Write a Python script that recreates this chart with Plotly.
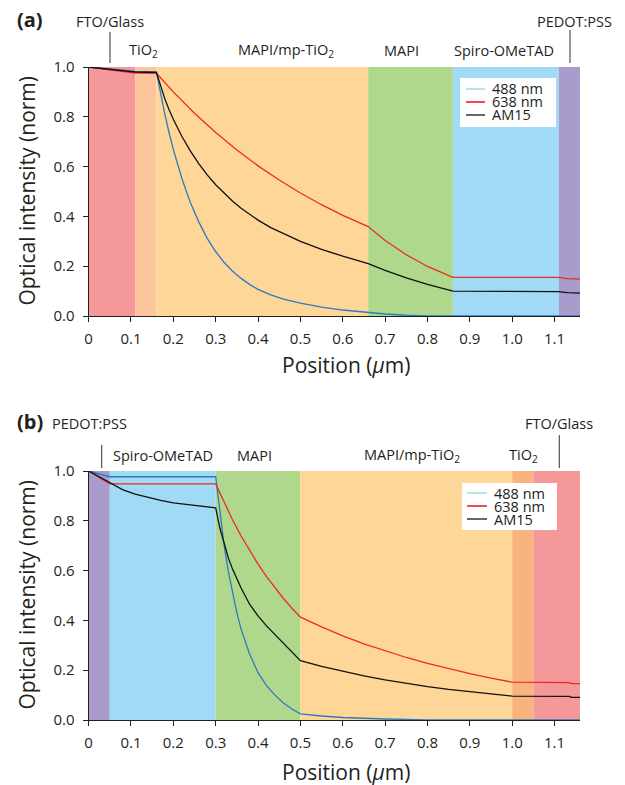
import plotly.graph_objects as go

# ---------------- data ----------------
# Panel (a): layer stack FTO/Glass -> PEDOT:PSS
top_layer_names = ["FTO/Glass", "TiO2", "MAPI/mp-TiO2", "MAPI", "Spiro-OMeTAD", "PEDOT:PSS"]
top_layer_edges = [0.0, 0.11, 0.16, 0.66, 0.86, 1.11, 1.16]
top_layer_colors = ["#F4989A", "#FCC59C", "#FDD698", "#B0D88C", "#A1DAF5", "#A99BCB"]

top_x_488 = [0, 0.11, 0.16, 0.17, 0.18, 0.19, 0.20, 0.22, 0.24, 0.26, 0.28, 0.30, 0.32, 0.34, 0.36,
             0.38, 0.40, 0.43, 0.46, 0.50, 0.55, 0.60, 0.66, 0.70, 0.75, 0.80, 1.16]
top_y_488 = [1.0, 0.982, 0.98, 0.891, 0.81, 0.736, 0.669, 0.553, 0.457, 0.378, 0.312, 0.258, 0.215, 0.18, 0.151,
             0.127, 0.107, 0.085, 0.068, 0.052, 0.036, 0.024, 0.013, 0.008, 0.003, 0.0, 0.0]

top_x_638 = [0, 0.11, 0.16, 0.20, 0.25, 0.30, 0.35, 0.40, 0.45, 0.50, 0.55, 0.60, 0.66,
             0.70, 0.75, 0.80, 0.86, 1.11, 1.13, 1.16]
top_y_638 = [1.0, 0.975, 0.975, 0.90, 0.814, 0.737, 0.667, 0.603, 0.546, 0.494, 0.447, 0.404, 0.359,
             0.303, 0.246, 0.199, 0.155, 0.155, 0.150, 0.148]

top_x_am15 = [0, 0.11, 0.16, 0.17, 0.18, 0.19, 0.20, 0.22, 0.24, 0.26, 0.28, 0.30, 0.32, 0.34, 0.36,
              0.38, 0.40, 0.43, 0.46, 0.50, 0.55, 0.60, 0.66, 0.70, 0.75, 0.80, 0.86, 1.11, 1.13, 1.16]
top_y_am15 = [1.0, 0.98, 0.978, 0.92, 0.872, 0.828, 0.79, 0.722, 0.663, 0.612, 0.567, 0.527, 0.492, 0.461, 0.433,
              0.408, 0.385, 0.355, 0.33, 0.30, 0.268, 0.24, 0.21, 0.183, 0.153, 0.127, 0.10, 0.098, 0.094, 0.092]

# Panel (b): layer stack PEDOT:PSS -> FTO/Glass
bot_layer_names = ["PEDOT:PSS", "Spiro-OMeTAD", "MAPI", "MAPI/mp-TiO2", "TiO2", "FTO/Glass"]
bot_layer_edges = [0.0, 0.05, 0.30, 0.50, 1.00, 1.05, 1.16]
bot_layer_colors = ["#A99BCB", "#A1DAF5", "#B0D88C", "#FDD698", "#F9B47E", "#F4989A"]

bot_x_488 = [0, 0.05, 0.30, 0.31, 0.32, 0.33, 0.34, 0.35, 0.36, 0.38, 0.40, 0.42, 0.44, 0.46, 0.48, 0.50,
             0.55, 0.60, 0.70, 0.80, 1.16]
bot_y_488 = [1.0, 0.977, 0.977, 0.83, 0.70, 0.595, 0.505, 0.43, 0.365, 0.265, 0.19, 0.138, 0.1, 0.068, 0.044, 0.025,
             0.016, 0.01, 0.004, 0.0, 0.0]

bot_x_638 = [0, 0.05, 0.30, 0.32, 0.34, 0.36, 0.38, 0.40, 0.42, 0.44, 0.46, 0.48, 0.50, 0.55, 0.60,
             0.65, 0.70, 0.75, 0.80, 0.85, 0.90, 0.95, 1.00, 1.135, 1.14, 1.16]
bot_y_638 = [1.0, 0.948, 0.948, 0.873, 0.803, 0.739, 0.680, 0.626, 0.576, 0.530, 0.488, 0.449, 0.413, 0.374, 0.338,
             0.306, 0.277, 0.251, 0.227, 0.205, 0.186, 0.168, 0.152, 0.150, 0.146, 0.146]

bot_x_am15 = [0, 0.05, 0.08, 0.11, 0.14, 0.17, 0.20, 0.25, 0.30, 0.31, 0.32, 0.33, 0.34, 0.35, 0.36,
              0.38, 0.40, 0.42, 0.44, 0.46, 0.48, 0.50, 0.55, 0.60, 0.65, 0.70, 0.75, 0.80, 0.85,
              0.90, 0.95, 1.00, 1.135, 1.14, 1.16]
bot_y_am15 = [1.0, 0.953, 0.925, 0.907, 0.894, 0.882, 0.872, 0.861, 0.852, 0.77, 0.705, 0.65, 0.605, 0.565, 0.53,
              0.465, 0.418, 0.378, 0.342, 0.307, 0.272, 0.238, 0.215, 0.195, 0.177, 0.161, 0.147, 0.134, 0.123,
              0.113, 0.104, 0.096, 0.095, 0.091, 0.091]

series_names = ["488 nm", "638 nm", "AM15"]
series_colors = ["#2B7BC0", "#EE2A24", "#111111"]
legend_colors = ["#A6DCE6", "#EE1C24", "#404040"]

x_tickvals = [0, 0.1, 0.2, 0.3, 0.4, 0.5, 0.6, 0.7, 0.8, 0.9, 1.0, 1.1]
x_ticktext = ["0", "0.1", "0.2", "0.3", "0.4", "0.5", "0.6", "0.7", "0.8", "0.9", "1.0", "1.1"]
y_tickvals = [0, 0.2, 0.4, 0.6, 0.8, 1.0]
y_ticktext = ["0.0", "0.2", "0.4", "0.6", "0.8", "1.0"]

# ---------------- figure ----------------
FONT = "Open Sans"
INK = "#231F20"
W, H = 625, 785
OFF = 8  # page body margin offset

fig = go.Figure()

top_series = [(top_x_488, top_y_488), (top_x_638, top_y_638), (top_x_am15, top_y_am15)]
bot_series = [(bot_x_488, bot_y_488), (bot_x_638, bot_y_638), (bot_x_am15, bot_y_am15)]
for (xs, ys), name, col in zip(top_series, series_names, series_colors):
    fig.add_trace(go.Scatter(x=xs, y=ys, mode="lines", name=name, showlegend=False,
                             line=dict(color=col, width=1.3), xaxis="x", yaxis="y"))
for (xs, ys), name, col in zip(bot_series, series_names, series_colors):
    fig.add_trace(go.Scatter(x=xs, y=ys, mode="lines", name=name, showlegend=False,
                             line=dict(color=col, width=1.3), xaxis="x2", yaxis="y2"))

shapes = []
for edges, cols, xr, yr in [(top_layer_edges, top_layer_colors, "x", "y"),
                            (bot_layer_edges, bot_layer_colors, "x2", "y2")]:
    for i, c in enumerate(cols):
        shapes.append(dict(type="rect", xref=xr, yref=yr, x0=edges[i], x1=edges[i + 1],
                           y0=0, y1=1, fillcolor=c, line=dict(width=0), layer="below"))

def px(x):
    return (x - OFF) / W

def py(y):
    return 1 - (y - OFF) / H

annotations = []

def txt(text, x, y, size=14.5, xanchor="center", bold=False, angle=0):
    annotations.append(dict(text=("<b>%s</b>" % text) if bold else text, x=x, y=y,
                            xref="paper", yref="paper", showarrow=False, xanchor=xanchor,
                            yanchor="middle", textangle=angle,
                            font=dict(family=FONT, size=size, color=INK)))

# pointer lines
for xpx, y0, y1 in [(110, 32, 63), (570, 30, 63), (101.7, 445, 468), (559.3, 435, 468)]:
    shapes.append(dict(type="line", xref="paper", yref="paper", x0=px(xpx), x1=px(xpx),
                       y0=py(y0), y1=py(y1), line=dict(color="#444444", width=1.1)))

# panel labels
txt("(a)", px(30), py(20), size=20, bold=True)
txt("(b)", px(30), py(421), size=20, bold=True)

# layer labels panel (a)
txt("FTO/Glass", px(110), py(22))
txt("TiO<sub>2</sub>", px(143), py(51))
txt("MAPI/mp-TiO<sub>2</sub>", px(286), py(51))
txt("MAPI", px(401.5), py(51))
txt("Spiro-OMeTAD", px(503.8), py(51))
txt("PEDOT:PSS", px(574), py(22))
# layer labels panel (b)
txt("PEDOT:PSS", px(89.5), py(423))
txt("Spiro-OMeTAD", px(162.5), py(455))
txt("MAPI", px(254), py(455))
txt("MAPI/mp-TiO<sub>2</sub>", px(411.7), py(455))
txt("TiO<sub>2</sub>", px(523), py(455))
txt("FTO/Glass", px(558.7), py(423))

# axis titles
for yc in [191.5, 595.5]:
    txt("Optical intensity (norm)", px(26), py(yc), size=21, angle=-90)
for yc in [365, 772]:
    txt("Position (<i>μ</i>m)", px(346), py(yc), size=21)

# manual legends
for (bx0, by0, bx1, by1, lx0, lx1, tx, ys) in [
        (460, 78, 556, 127, 466, 485, 490, [89, 102, 115]),
        (462, 483, 557, 530, 467, 487, 491.7, [493, 506, 519])]:
    shapes.append(dict(type="rect", xref="paper", yref="paper", x0=px(bx0), x1=px(bx1),
                       y0=py(by1), y1=py(by0), fillcolor="white", line=dict(width=0)))
    for name, col, yy in zip(series_names, legend_colors, ys):
        shapes.append(dict(type="line", xref="paper", yref="paper", x0=px(lx0), x1=px(lx1),
                           y0=py(yy), y1=py(yy), line=dict(color=col, width=1.6)))
        txt(name, px(tx), py(yy), size=14.5, xanchor="left")

xdom = [px(88.6), px(580)]
axis_common = dict(showline=True, linecolor=INK, linewidth=1.2, ticks="outside", ticklen=5,
                   tickcolor=INK, tickwidth=1.1, showgrid=False, zeroline=False, automargin=False,
                   tickfont=dict(family=FONT, size=15, color=INK))

fig.update_layout(
    width=W, height=H, margin=dict(l=0, r=0, t=0, b=0, autoexpand=False),
    paper_bgcolor="white", plot_bgcolor="white", showlegend=False,
    xaxis=dict(domain=xdom, anchor="y", range=[0, 1.16], tickvals=x_tickvals, ticktext=x_ticktext,
               ticklabelstandoff=4, **axis_common),
    yaxis=dict(domain=[py(316), py(67)], anchor="x", range=[0, 1.0], tickvals=y_tickvals,
               ticktext=y_ticktext, ticklabelstandoff=5, **axis_common),
    xaxis2=dict(domain=xdom, anchor="y2", range=[0, 1.16], tickvals=x_tickvals, ticktext=x_ticktext,
                ticklabelstandoff=4, **axis_common),
    yaxis2=dict(domain=[py(720), py(471)], anchor="x2", range=[0, 1.0], tickvals=y_tickvals,
                ticktext=y_ticktext, ticklabelstandoff=5, **axis_common),
    shapes=shapes, annotations=annotations,
)

fig.write_html("out.html")
